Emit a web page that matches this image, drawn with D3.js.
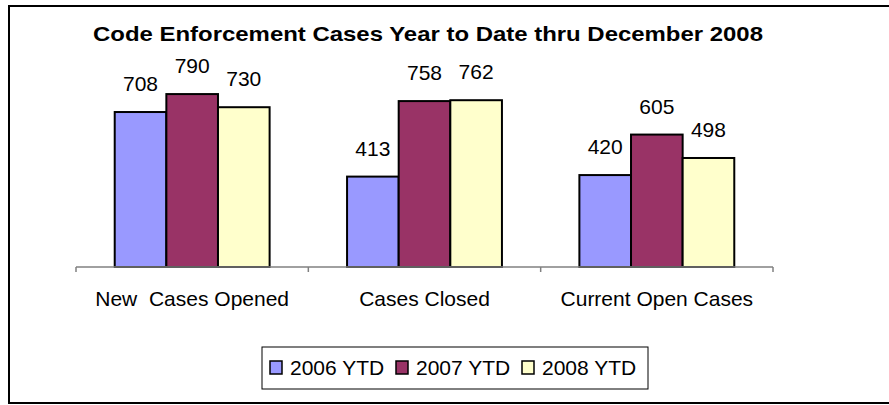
<!DOCTYPE html>
<html>
<head>
<meta charset="utf-8">
<script src="https://cdn.jsdelivr.net/npm/d3@7"></script>
<style>
  body { margin: 0; background: #fff; }
  svg { display: block; font-family: "Liberation Sans", Arial, sans-serif; }
</style>
</head>
<body>
<svg id="chart"></svg>
<script>
// data
var categories = ["New  Cases Opened", "Cases Closed", "Current Open Cases"];
var seriesNames = ["2006 YTD", "2007 YTD", "2008 YTD"];
var values2006 = [708, 413, 420];
var values2007 = [790, 758, 605];
var values2008 = [730, 762, 498];
var seriesColors = ["#9999FF", "#993366", "#FFFFCC"];

var width = 889, height = 405;
var series = [values2006, values2007, values2008];
var fontSize = "21px";

var svg = d3.select("#chart")
    .attr("width", width)
    .attr("height", height);

// outer frame (right edge runs off the picture)
svg.append("path")
    .attr("d", "M" + 900 + ",6 H9 V403 H900")
    .attr("fill", "none")
    .attr("stroke", "#000")
    .attr("stroke-width", 2);

svg.append("text")
    .attr("x", 93)
    .attr("y", 41)
    .attr("font-weight", "bold")
    .attr("font-size", "21px")
    .attr("textLength", 670)
    .attr("lengthAdjust", "spacingAndGlyphs")
    .text("Code Enforcement Cases Year to Date thru December 2008");

var x0 = d3.scaleBand().domain(categories).range([76, 773]);
var gap = x0.bandwidth() / 6;
var x1 = d3.scaleBand().domain(d3.range(seriesNames.length))
    .range([gap, x0.bandwidth() - gap]);
var y = d3.scaleLinear().domain([0, 900]).range([267, 70]);

// bars
categories.forEach(function(c, ci) {
  var g = svg.append("g").attr("transform", "translate(" + x0(c) + ",0)");
  series.forEach(function(vals, si) {
    g.append("rect")
      .attr("x", x1(si))
      .attr("y", y(vals[ci]))
      .attr("width", x1.bandwidth())
      .attr("height", y(0) - y(vals[ci]))
      .attr("fill", seriesColors[si])
      .attr("stroke", "#000")
      .attr("stroke-width", 2);
    g.append("text")
      .attr("x", x1(si) + x1.bandwidth() / 2)
      .attr("y", y(vals[ci]) - 21)
      .attr("text-anchor", "middle")
      .attr("font-size", fontSize)
      .text(vals[ci]);
  });
});

// category axis
var axis = svg.append("g").attr("transform", "translate(0," + y(0) + ")");
axis.append("line")
    .attr("x1", 76).attr("x2", 773)
    .attr("stroke", "#808080").attr("stroke-width", 1.5);
var tickXs = categories.map(function(c) { return x0(c); }).concat([773]);
tickXs.forEach(function(tx) {
  axis.append("line")
    .attr("x1", tx).attr("x2", tx)
    .attr("y1", 0).attr("y2", 5)
    .attr("stroke", "#808080").attr("stroke-width", 1.5);
});
categories.forEach(function(c) {
  axis.append("text")
    .attr("x", x0(c) + x0.bandwidth() / 2)
    .attr("y", 39)
    .attr("text-anchor", "middle")
    .attr("font-size", fontSize)
    .attr("xml:space", "preserve")
    .style("white-space", "pre")
    .text(c);
});

// legend
var legend = svg.append("g");
legend.append("rect")
    .attr("x", 262).attr("y", 347)
    .attr("width", 386).attr("height", 42)
    .attr("fill", "#fff")
    .attr("stroke", "#000").attr("stroke-width", 1);
var legendX = [270, 396, 522];
seriesNames.forEach(function(name, i) {
  legend.append("rect")
    .attr("x", legendX[i]).attr("y", 361)
    .attr("width", 12).attr("height", 13)
    .attr("fill", seriesColors[i])
    .attr("stroke", "#000").attr("stroke-width", 1.5);
  legend.append("text")
    .attr("x", legendX[i] + 20)
    .attr("y", 375)
    .attr("font-size", fontSize)
    .text(name);
});
</script>
</body>
</html>
